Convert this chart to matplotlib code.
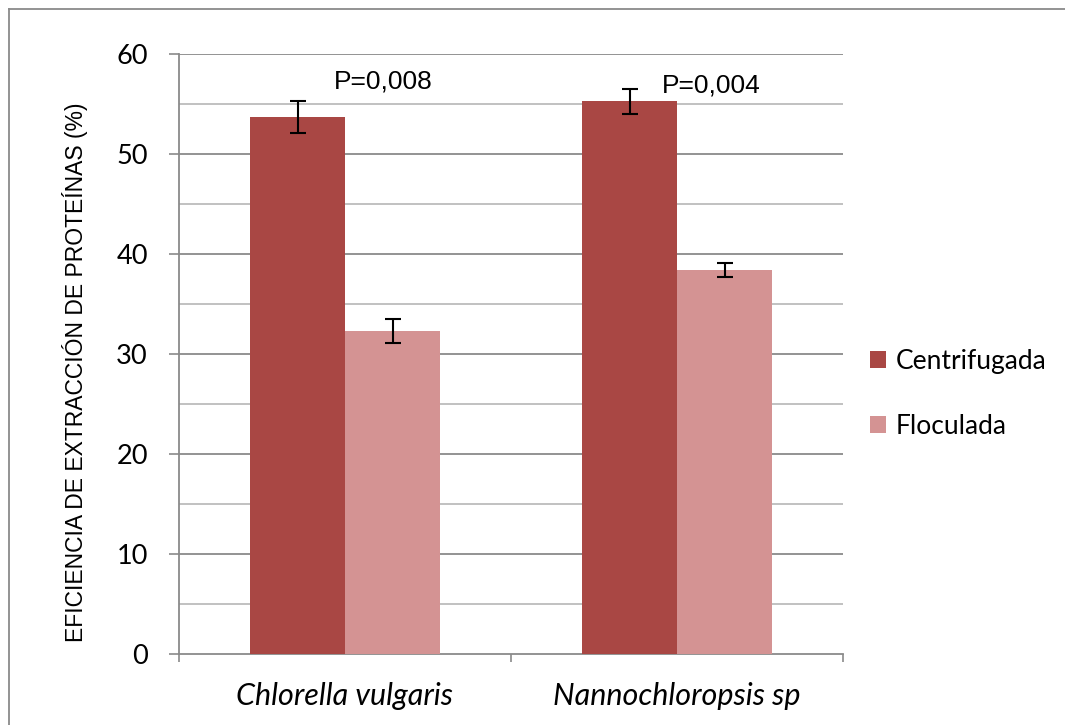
import matplotlib
matplotlib.use("Agg")
import matplotlib.pyplot as plt
from matplotlib.patches import Patch
from matplotlib.lines import Line2D
import numpy as np

categories = ["Chlorella vulgaris", "Nannochloropsis sp"]
series = ["Centrifugada", "Floculada"]
centrifugada = [53.7, 55.3]
centrifugada_err = [1.6, 1.25]
floculada = [32.3, 38.4]
floculada_err = [1.2, 0.7]
p_labels = ["P=0,008", "P=0,004"]
y_ticks = [0, 10, 20, 30, 40, 50, 60]

c1 = "#A94744"
c2 = "#D49393"
major_grid = "#8a8a8a"
minor_grid = "#bcbcbc"
W, H = 1065, 725

fig = plt.figure(figsize=(W / 100, H / 100), dpi=100)
ax = fig.add_axes([179 / W, 1 - 654 / H, (843 - 179) / W, (654 - 54) / H])

x = np.arange(len(categories))
bw = 95 / 332
ax.bar(x - bw / 2, centrifugada, bw, color=c1, zorder=3, label=series[0])
ax.bar(x + bw / 2, floculada, bw, color=c2, zorder=3, label=series[1])
ax.errorbar(x - bw / 2, centrifugada, yerr=centrifugada_err, fmt="none",
            ecolor="black", elinewidth=1.5, capsize=6, capthick=1.5, zorder=4)
ax.errorbar(x + bw / 2, floculada, yerr=floculada_err, fmt="none",
            ecolor="black", elinewidth=1.5, capsize=6, capthick=1.5, zorder=4)

ax.set_xlim(-0.5, 1.5)
ax.set_ylim(0, 60)

# y axis
ax.set_yticks(y_ticks)
ax.set_yticklabels([str(v) for v in y_ticks], fontfamily="Lato", fontsize=19.5)
ax.set_yticks(np.arange(5, 60, 10), minor=True)
ax.tick_params(axis="y", which="major", direction="out", length=7.5, width=1.2,
               color=major_grid, pad=15)
ax.tick_params(axis="y", which="minor", length=0)
for v in y_ticks[1:]:
    ax.axhline(v, color=major_grid, lw=1.3, zorder=1)
for v in np.arange(5, 60, 10):
    ax.axhline(v, color=minor_grid, lw=1.3, zorder=1)

# x axis
ax.set_xticks([-0.5, 0.5, 1.5])
ax.set_xticklabels(["", "", ""])
ax.set_xticks(x, minor=True)
ax.set_xticklabels(categories, minor=True, fontfamily="Lato", fontstyle="italic",
                   fontsize=22)
ax.tick_params(axis="x", which="major", direction="out", length=6, width=1.2,
               color=major_grid)
ax.tick_params(axis="x", which="minor", length=0, pad=20)

for s in ["top", "right"]:
    ax.spines[s].set_visible(False)
for s in ["left", "bottom"]:
    ax.spines[s].set_color(major_grid)
    ax.spines[s].set_linewidth(1.3)

# P-values
p_x = [0.114, 1.102]
p_y = [56.5, 56.2]
for px, py, t in zip(p_x, p_y, p_labels):
    ax.text(px, py, t, ha="center", va="baseline", fontfamily="Liberation Sans",
            fontsize=19)

# y label
fig.text(75 / W, 1 - 372 / H, "EFICIENCIA DE EXTRACCIÓN DE PROTEÍNAS (%)",
         rotation=90, ha="center", va="center", fontfamily="Liberation Sans",
         fontsize=16.5)

# legend
handles = [Patch(facecolor=c1), Patch(facecolor=c2)]
fig.legend(handles, series, loc="upper left",
           bbox_to_anchor=(870 / W, 1 - 349 / H), frameon=False,
           prop={"family": "Lato", "size": 19}, handlelength=0.62,
           handleheight=0.62, handletextpad=0.35, labelspacing=1.5,
           borderpad=0, borderaxespad=0)

# outer frame
fig.add_artist(Line2D([8.5 / W, 8.5 / W], [0, 1 - 9 / H], color="#8a8a8a",
                      lw=1.3, transform=fig.transFigure))
fig.add_artist(Line2D([8.5 / W, 1], [1 - 9 / H, 1 - 9 / H], color="#8a8a8a",
                      lw=1.3, transform=fig.transFigure))

fig.savefig("out.png", dpi=100)
